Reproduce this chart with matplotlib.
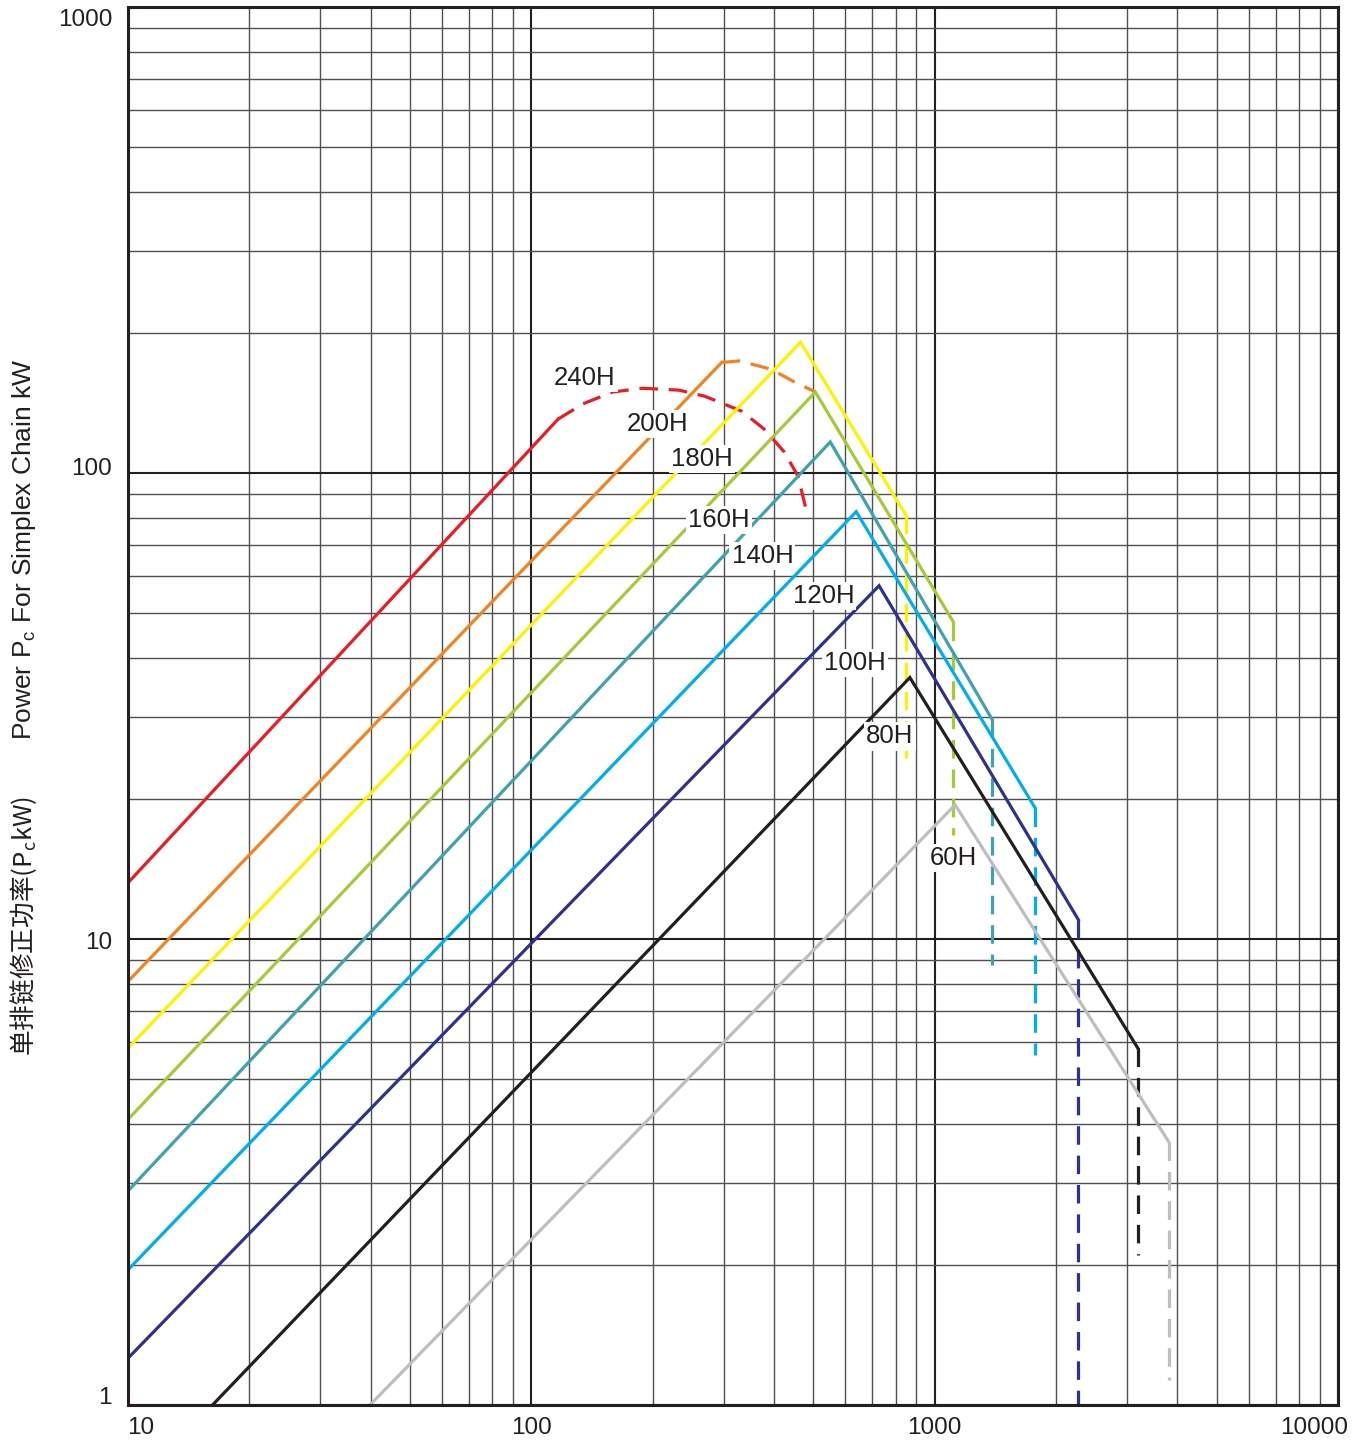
import matplotlib
matplotlib.use("Agg")
import matplotlib.pyplot as plt
from matplotlib.ticker import LogLocator, NullFormatter
from matplotlib.transforms import offset_copy

plt.rcParams['mathtext.fontset'] = 'custom'

# ---------------- data ----------------
series_names = ["240H", "200H", "180H", "160H", "140H", "120H", "100H", "80H", "60H"]
series_colors = ["#ed1c24", "#f58220", "#fff200", "#a3cb38", "#3fa2ad",
                 "#00aeef", "#2e3192", "#231f20", "#bcbec0"]

h240_solid_x = [10, 116.5]
h240_solid_y = [13.2, 130.5]
h240_dash_x = [116.5, 134.2, 159, 188.4, 232.3, 269.3, 331.8, 378, 423.6, 458.3, 484.6]
h240_dash_y = [130.5, 140.7, 149.2, 152.0, 150.6, 146.1, 135.8, 124.2, 111.0, 98.5, 80.6]

h200_solid_x = [10, 296.5]
h200_solid_y = [8.11, 172.7]
h200_dash_x = [296.5, 328, 393, 448.5, 506]
h200_dash_y = [172.7, 174, 167, 156.9, 149.2]

h180_solid_x = [10, 465, 847.5]
h180_solid_y = [5.83, 190.8, 81.4]
h180_dash_x = [847.5, 847.5]
h180_dash_y = [81.4, 24.4]

h160_solid_x = [10, 506, 1111]
h160_solid_y = [4.10, 149.2, 48.0]
h160_dash_x = [1111, 1111]
h160_dash_y = [48.0, 16.7]

h140_solid_x = [10, 551, 1388]
h140_solid_y = [2.88, 116.6, 29.6]
h140_dash_x = [1388, 1388]
h140_dash_y = [29.6, 8.81]

h120_solid_x = [10, 639, 1775]
h120_solid_y = [1.95, 82.6, 19.1]
h120_dash_x = [1775, 1775]
h120_dash_y = [19.1, 5.63]

h100_solid_x = [10, 728, 2271]
h100_solid_y = [1.26, 57.3, 11.0]
h100_dash_x = [2271, 2271]
h100_dash_y = [11.0, 1.0]

h80_solid_x = [16.2, 868, 3190]
h80_solid_y = [1.0, 36.4, 5.83]
h80_dash_x = [3190, 3190]
h80_dash_y = [5.83, 2.1]

h60_solid_x = [39.8, 1124, 3805]
h60_solid_y = [1.0, 19.4, 3.67]
h60_dash_x = [3805, 3805]
h60_dash_y = [3.67, 1.13]

label_x = [135.7, 205, 264.6, 291.6, 374, 530, 634, 774, 1111]
label_y = [159.8, 127.5, 107.2, 79.3, 66.5, 54.4, 39.1, 27.2, 14.9]

x_ticks = [10, 100, 1000, 10000]
x_tick_labels = ["10", "100", "1000", "10000"]
y_ticks = [1, 10, 100, 1000]
y_tick_labels = ["1", "10", "100", "1000"]

ylabel_en = r"Power P$_\mathregular{c}$ For Simplex Chain kW"
ylabel_cn = r"单排链修正功率(P$_\mathregular{c}$kW)"

solid_x = [h240_solid_x, h200_solid_x, h180_solid_x, h160_solid_x, h140_solid_x,
           h120_solid_x, h100_solid_x, h80_solid_x, h60_solid_x]
solid_y = [h240_solid_y, h200_solid_y, h180_solid_y, h160_solid_y, h140_solid_y,
           h120_solid_y, h100_solid_y, h80_solid_y, h60_solid_y]
dash_x = [h240_dash_x, h200_dash_x, h180_dash_x, h160_dash_x, h140_dash_x,
          h120_dash_x, h100_dash_x, h80_dash_x, h60_dash_x]
dash_y = [h240_dash_y, h200_dash_y, h180_dash_y, h160_dash_y, h140_dash_y,
          h120_dash_y, h100_dash_y, h80_dash_y, h60_dash_y]

# ---------------- figure ----------------
W, H = 1367, 1444
fig = plt.figure(figsize=(W / 100, H / 100), dpi=100)
ax = fig.add_axes([128 / W, 1 - 1405 / H, (1338 - 128) / W, (1405 - 7) / H])
ax.set_xscale('log')
ax.set_yscale('log')
ax.set_xlim(10, 10000)
ax.set_ylim(1, 1000)

ax.xaxis.set_major_locator(LogLocator(base=10, numticks=10))
ax.yaxis.set_major_locator(LogLocator(base=10, numticks=10))
ax.xaxis.set_minor_locator(LogLocator(base=10, subs=range(2, 10), numticks=40))
ax.yaxis.set_minor_locator(LogLocator(base=10, subs=range(2, 10), numticks=40))
ax.xaxis.set_major_formatter(NullFormatter())
ax.yaxis.set_major_formatter(NullFormatter())
ax.xaxis.set_minor_formatter(NullFormatter())
ax.yaxis.set_minor_formatter(NullFormatter())
ax.tick_params(which='both', length=0)

ax.grid(which='major', color='#231f20', lw=1.5, zorder=0)
ax.grid(which='minor', color='#505050', lw=1.0, zorder=0)
ax.set_axisbelow(True)
for s in ax.spines.values():
    s.set_linewidth(2.2)
    s.set_color('#231f20')
    s.set_zorder(5)

LW = 2.3
for i in range(len(series_names)):
    ax.plot(solid_x[i], solid_y[i], color=series_colors[i], lw=LW,
            solid_joinstyle='miter', zorder=3, clip_on=True)
    ax.plot(dash_x[i], dash_y[i], color=series_colors[i], lw=LW,
            linestyle=(0, (5.8, 3.4)), zorder=3)

for i, name in enumerate(series_names):
    ax.text(label_x[i], label_y[i], name, ha='center', va='center',
            fontsize=18.5, family='Liberation Sans', color='#231f20', zorder=4,
            bbox=dict(facecolor='white', edgecolor='none', pad=1.5))

# tick labels (manual, to reproduce offsets)
xt_off = [9, 0, 0, -17.3]
for v, lab, off in zip(x_ticks, x_tick_labels, xt_off):
    tr = offset_copy(ax.get_xaxis_transform(), fig=fig, x=off, y=-9, units='points')
    ax.text(v, 0, lab, transform=tr, ha='center', va='top', fontsize=17.5,
            family='Liberation Sans', color='#231f20', clip_on=False)
yt_off = [5, -3, 3, -9]
for v, lab, off in zip(y_ticks, y_tick_labels, yt_off):
    tr = offset_copy(ax.get_yaxis_transform(), fig=fig, x=-11.5, y=off, units='points')
    ax.text(0, v, lab, transform=tr, ha='right', va='center', fontsize=17.5,
            family='Liberation Sans', color='#231f20', clip_on=False)

fig.text(24 / W, 1 - 549 / H, ylabel_en, rotation=90, ha='center', va='center',
         fontsize=19, family=['Liberation Sans Narrow', 'Liberation Sans'],
         color='#231f20')
fig.text(24 / W, 1 - 926 / H, ylabel_cn, rotation=90, ha='center', va='center',
         fontsize=18.5, family=['Noto Sans CJK SC'], color='#231f20')

fig.savefig("out.png", dpi=100, facecolor='white')
